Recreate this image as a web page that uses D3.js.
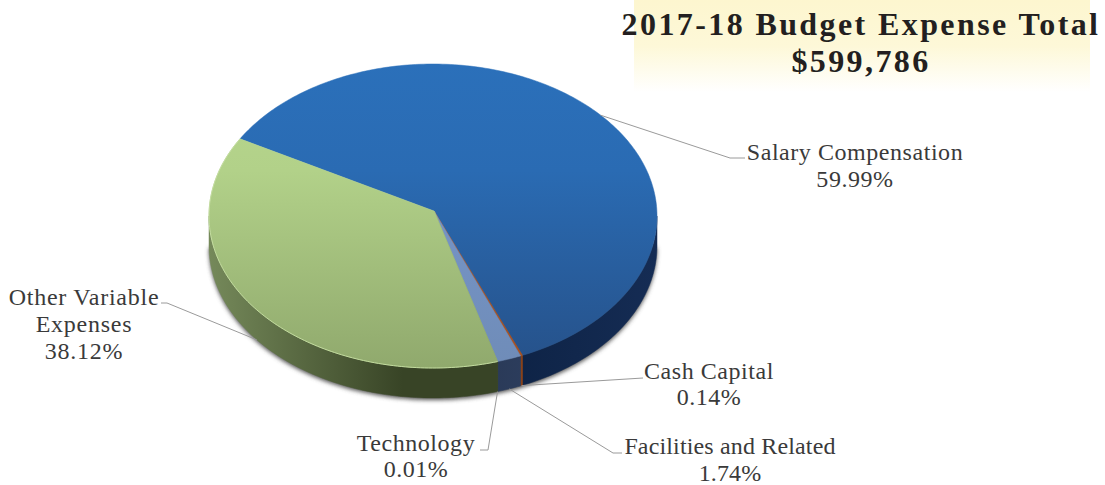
<!DOCTYPE html>
<html>
<head>
<meta charset="utf-8">
<script src="https://d3js.org/d3.v7.min.js"></script>
<style>
  body { margin: 0; background: #fff; }
  text { font-family: "Liberation Serif", serif; }
</style>
</head>
<body>
<script>
var categories = ["Salary Compensation", "Cash Capital", "Facilities and Related", "Technology", "Other Variable Expenses"];
var values = [59.99, 0.14, 1.74, 0.01, 38.12];
var titleLines = ["2017-18 Budget Expense Total", "$599,786"];
var labelLines = [
  ["Salary Compensation", "59.99%"],
  ["Cash Capital", "0.14%"],
  ["Facilities and Related", "1.74%"],
  ["Technology", "0.01%"],
  ["Other Variable", "Expenses", "38.12%"]
];

var width = 1105, height = 485;
var cx = 433, cy = 216, rx = 224, ry = 152, depth = 30;
var apex = [434, 211];
var startDeg = 300.5;

var topColors = [["#2b70ba", "#265189"], ["#c0612a", "#a84f1e"], ["#7898cc", "#6f8cb8"], ["#9cb87a", "#93ad70"], ["#b8d88e", "#90a96d"]];
var sideColors = [["#152c54", "#0d2244"], ["#a04a18", "#8c3f12"], ["#34486e", "#2a3a58"], ["#3a4526", "#3a4526"], ["#75895a", "#384426"]];

// where each label sits and how its leader runs to it
var labelPos = [
  { x: 855, y: 160, dy: 27, spacing: 0.55, rim: "top", elbow: [[730, 158], [745, 158]] },
  { x: 709, y: 379, dy: 26, spacing: 0.55, rim: "bottom", elbow: [[643, 378]] },
  { x: 730, y: 454, dy: 27, spacing: 0.15, rim: "bottom", elbow: [[613, 453], [622, 453]] },
  { x: 416, y: 451, dy: 26, spacing: 0.55, rim: "bottom", elbow: [[488, 450], [480, 450]] },
  { x: 84, y: 305, dy: 27, spacing: 0.75, rim: "bottom", elbow: [[167, 303], [161, 303]] }
];

var svg = d3.select("body").append("svg")
  .attr("width", width)
  .attr("height", height)
  .style("display", "block");

var defs = svg.append("defs");

var blur = defs.append("filter").attr("id", "soft")
  .attr("x", "-5%").attr("y", "-5%").attr("width", "110%").attr("height", "110%");
blur.append("feGaussianBlur").attr("stdDeviation", 2.2);

// title band
var band = defs.append("linearGradient").attr("id", "band")
  .attr("x1", 0).attr("y1", 0).attr("x2", 0).attr("y2", 1);
band.append("stop").attr("offset", "0%").attr("stop-color", "#fdf6cf");
band.append("stop").attr("offset", "50%").attr("stop-color", "#fdf8d8");
band.append("stop").attr("offset", "100%").attr("stop-color", "#ffffff");

svg.append("rect")
  .attr("x", 634).attr("y", 0)
  .attr("width", 456).attr("height", 92)
  .attr("fill", "url(#band)");

svg.selectAll(".title")
  .data(titleLines)
  .enter().append("text")
  .attr("class", "title")
  .attr("x", 861)
  .attr("y", function(d, i) { return 35 + i * 37; })
  .attr("text-anchor", "middle")
  .attr("font-size", 32)
  .attr("font-weight", "bold")
  .attr("letter-spacing", 2.4)
  .attr("fill", "#231f20")
  .text(function(d) { return d; });

var pie = d3.pie().sort(null)
  .startAngle(startDeg * Math.PI / 180)
  .endAngle((startDeg + 360) * Math.PI / 180);
var arcs = pie(values);

function rimPoint(a, drop) {
  return [cx + rx * Math.sin(a), cy - ry * Math.cos(a) + (drop || 0)];
}

function rimPoints(a0, a1, drop) {
  var n = Math.max(2, Math.ceil((a1 - a0) * 180 / Math.PI));
  return d3.range(n + 1).map(function(i) {
    return rimPoint(a0 + (a1 - a0) * i / n, drop);
  });
}

var line = d3.line();

arcs.forEach(function(d, i) {
  var g1 = defs.append("linearGradient").attr("id", "top" + i)
    .attr("gradientUnits", "userSpaceOnUse")
    .attr("x1", 0).attr("y1", cy - ry).attr("x2", 0).attr("y2", cy + ry);
  g1.append("stop").attr("offset", "0%").attr("stop-color", topColors[i][0]);
  g1.append("stop").attr("offset", "35%").attr("stop-color", d3.interpolateRgb(topColors[i][0], topColors[i][1])(0.15));
  g1.append("stop").attr("offset", "100%").attr("stop-color", topColors[i][1]);

  var leftSide = i === 4;
  var g2 = defs.append("linearGradient").attr("id", "side" + i)
    .attr("gradientUnits", "userSpaceOnUse")
    .attr("x1", leftSide ? cx - rx : cx + rx).attr("y1", 0)
    .attr("x2", leftSide ? cx - 30 : cx + 60).attr("y2", 0);
  g2.append("stop").attr("offset", "0%").attr("stop-color", sideColors[i][0]);
  g2.append("stop").attr("offset", "100%").attr("stop-color", sideColors[i][1]);
});

// soft shadow under the disc
svg.append("path")
  .attr("d", line(rimPoints(Math.PI / 2, Math.PI * 3 / 2, depth + 2)) + "L" + cx + "," + cy + "Z")
  .attr("fill", "#555")
  .attr("filter", "url(#soft)");

// side wall, only the part that faces the viewer
var frontWindows = [[Math.PI / 2, Math.PI * 1.5], [Math.PI * 2.5, Math.PI * 3.5]];

arcs.forEach(function(d, i) {
  frontWindows.forEach(function(w) {
    var a0 = Math.max(d.startAngle, w[0]);
    var a1 = Math.min(d.endAngle, w[1]);
    if (a1 <= a0) return;
    var pts = rimPoints(a0, a1, 0).concat(rimPoints(a0, a1, depth).reverse());
    svg.append("path")
      .attr("d", line(pts) + "Z")
      .attr("fill", "url(#side" + i + ")")
      .attr("stroke", "url(#side" + i + ")")
      .attr("stroke-width", 0.5);
  });
});

// top faces
svg.selectAll(".slice")
  .data(arcs)
  .enter().append("path")
  .attr("class", "slice")
  .attr("d", function(d) {
    return line([apex].concat(rimPoints(d.startAngle, d.endAngle, 0))) + "Z";
  })
  .attr("fill", function(d, i) { return "url(#top" + i + ")"; })
  .attr("stroke", function(d, i) { return "url(#top" + i + ")"; })
  .attr("stroke-width", 0.5);

// light edge along the green rim
var green = arcs[4];
svg.append("path")
  .attr("d", line(rimPoints(green.startAngle, green.endAngle, 0)))
  .attr("fill", "none")
  .attr("stroke", "#c3dc9f")
  .attr("stroke-width", 1);

// leaders
svg.selectAll(".leader")
  .data(arcs)
  .enter().append("path")
  .attr("class", "leader")
  .attr("d", function(d, i) {
    var pos = labelPos[i];
    var mid = (d.startAngle + d.endAngle) / 2;
    return line([rimPoint(mid, pos.rim === "top" ? 0 : depth)].concat(pos.elbow));
  })
  .attr("fill", "none")
  .attr("stroke", "#9a9a9a")
  .attr("stroke-width", 1);

// labels
var labels = svg.selectAll(".label")
  .data(labelLines)
  .enter().append("text")
  .attr("class", "label")
  .attr("text-anchor", "middle")
  .attr("font-size", 24)
  .attr("letter-spacing", function(d, i) { return labelPos[i].spacing; })
  .attr("fill", "#3a3a3a");

labels.selectAll("tspan")
  .data(function(d, i) {
    return d.map(function(t, j) {
      return { text: t, x: labelPos[i].x, y: labelPos[i].y + j * labelPos[i].dy };
    });
  })
  .enter().append("tspan")
  .attr("x", function(d) { return d.x; })
  .attr("y", function(d) { return d.y; })
  .text(function(d) { return d.text; });
</script>
</body>
</html>
